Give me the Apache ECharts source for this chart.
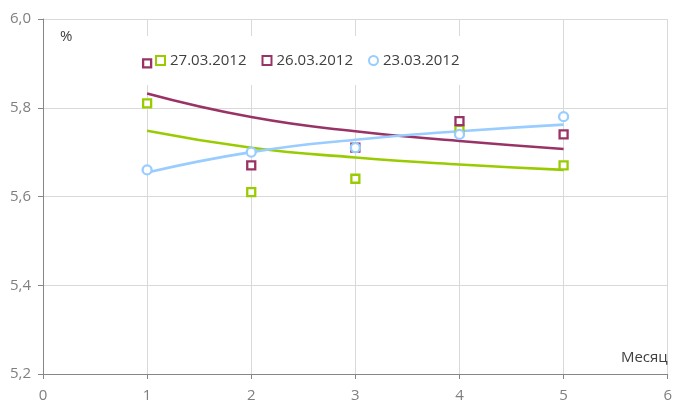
<!DOCTYPE html>
<html>
<head>
<meta charset="utf-8">
<script src="https://cdn.jsdelivr.net/npm/echarts@6/dist/echarts.min.js"></script>
<style>
html,body{margin:0;padding:0;background:#fff;overflow:hidden;}
#chart{width:675px;height:407px;}
</style>
</head>
<body>
<div id="chart"></div>
<script>
// Data
var months = [1, 2, 3, 4, 5];
var seriesNames = ['27.03.2012', '26.03.2012', '23.03.2012'];
var values27 = [5.81, 5.61, 5.64, 5.75, 5.67];
var values26 = [5.90, 5.67, 5.71, 5.77, 5.74];
var values23 = [5.66, 5.70, 5.71, 5.74, 5.78];
// Trend lines (logarithmic) at each month
var trend27 = [5.748, 5.710, 5.688, 5.672, 5.660];
var trend26 = [5.832, 5.779, 5.747, 5.725, 5.707];
var trend23 = [5.654, 5.700, 5.728, 5.747, 5.762];
var xTicks = [0, 1, 2, 3, 4, 5, 6];
var yTicks = [5.2, 5.4, 5.6, 5.8, 6.0];

var colors = ['#99CC00', '#993366', '#99CCFF'];
var symbols = ['rect', 'rect', 'circle'];
var pointSets = [values27, values26, values23];
var trendSets = [trend27, trend26, trend23];

function pairs(xs, ys) { return xs.map(function (x, i) { return [x, ys[i]]; }); }

var FONT = 'Open Sans';
var series = [];
for (var i = 0; i < 3; i++) {
  series.push({
    name: seriesNames[i] + ' trend',
    type: 'line',
    smooth: 0.5,
    showSymbol: false,
    silent: true,
    z: 3,
    lineStyle: { color: colors[i], width: 2.6 },
    data: pairs(months, trendSets[i])
  });
}
for (var j = 0; j < 3; j++) {
  series.push({
    name: seriesNames[j],
    type: 'scatter',
    symbol: symbols[j],
    symbolSize: j === 2 ? 9 : 8,
    z: 5,
    itemStyle: { color: '#fff', borderColor: colors[j], borderWidth: 2.3, opacity: 1 },
    data: pairs(months, pointSets[j])
  });
}

var chart = echarts.init(document.getElementById('chart'), null, { renderer: 'canvas', width: 675, height: 407 });
chart.setOption({
  animation: false,
  backgroundColor: '#fff',
  textStyle: { fontFamily: FONT },
  grid: { left: 43, right: 4, top: 19, bottom: 33, containLabel: false },
  legend: {
    data: seriesNames,
    left: 143,
    top: 36,
    padding: [17, 4, 17, 12],
    backgroundColor: '#fff',
    itemWidth: 9,
    itemHeight: 9,
    itemGap: 15,
    textStyle: { fontFamily: FONT, fontSize: 15, color: '#404040' }
  },
  xAxis: {
    type: 'value',
    min: xTicks[0],
    max: xTicks[xTicks.length - 1],
    interval: 1,
    name: 'Месяц',
    nameLocation: 'end',
    nameGap: 0,
    nameTextStyle: { fontFamily: FONT, fontSize: 15, color: '#404040', align: 'right', verticalAlign: 'bottom', padding: [0, 0, 9, 0] },
    axisLine: { show: true, lineStyle: { color: '#868686', width: 1 } },
    axisTick: { show: true, length: 5, lineStyle: { color: '#868686' } },
    axisLabel: { fontFamily: FONT, fontSize: 15, color: '#7f7f7f', margin: 14 },
    splitLine: { show: true, lineStyle: { color: '#d9d9d9', width: 1 } }
  },
  yAxis: {
    type: 'value',
    min: yTicks[0],
    max: yTicks[yTicks.length - 1],
    interval: 0.2,
    name: '%',
    nameLocation: 'end',
    nameGap: -10,
    nameTextStyle: { fontFamily: FONT, fontSize: 15, color: '#404040', align: 'left', verticalAlign: 'top', padding: [0, 0, 0, 17] },
    axisLine: { show: true, lineStyle: { color: '#868686', width: 1 } },
    axisTick: { show: true, length: 5, lineStyle: { color: '#868686' } },
    axisLabel: {
      fontFamily: FONT, fontSize: 15, color: '#7f7f7f', margin: 12,
      formatter: function (v) { return v.toFixed(1).replace('.', ','); }
    },
    splitLine: { show: true, lineStyle: { color: '#d9d9d9', width: 1 } }
  },
  series: series
});
</script>
</body>
</html>
